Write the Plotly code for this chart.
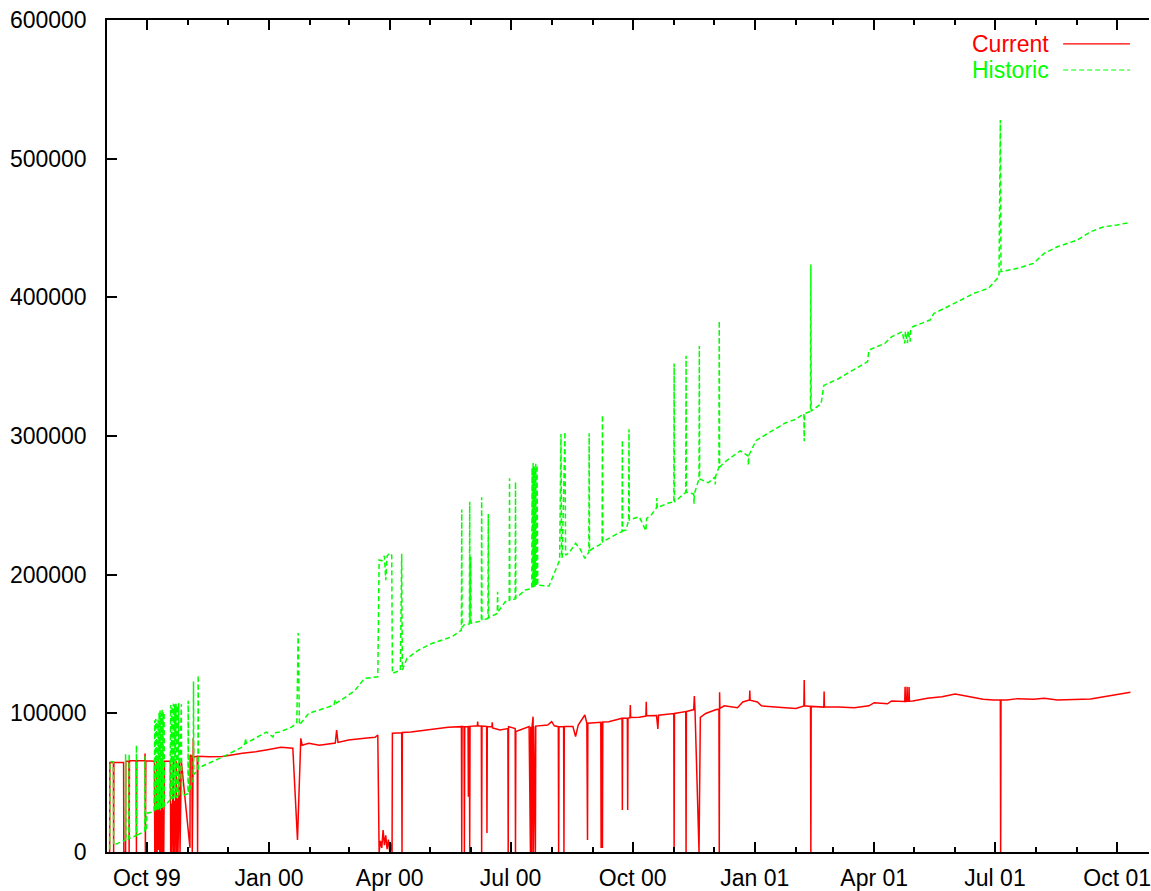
import plotly.graph_objects as go

# Current load, (timestamp, value) samples
current_points = [
    ("1999-09-03 00:00", 0), ("1999-09-03 04:00", 64500), ("1999-09-05 20:00", 64500),
    ("1999-09-06 00:00", 0), ("1999-09-06 04:00", 64500), ("1999-09-13 12:00", 64500),
    ("1999-09-13 16:00", 0), ("1999-09-15 00:00", 0), ("1999-09-15 04:00", 65500),
    ("1999-09-17 12:00", 65500), ("1999-09-17 16:00", 0), ("1999-09-17 22:00", 65800),
    ("1999-09-23 00:00", 65800), ("1999-09-23 04:00", 0), ("1999-09-23 10:00", 65800),
    ("1999-09-29 12:00", 65800), ("1999-09-29 16:00", 71000), ("1999-09-29 22:00", 0),
    ("1999-09-30 06:00", 65800), ("1999-10-06 18:00", 65500),
    ("1999-10-07 00:00", 0), ("1999-10-07 12:00", 30000), ("1999-10-08 00:00", 0),
    ("1999-10-08 06:00", 31000), ("1999-10-08 12:00", 65500), ("1999-10-08 18:00", 0),
    ("1999-10-09 06:00", 30500), ("1999-10-09 18:00", 1500), ("1999-10-10 06:00", 31000),
    ("1999-10-10 12:00", 65500), ("1999-10-10 18:00", 0), ("1999-10-11 06:00", 30000),
    ("1999-10-11 18:00", 0), ("1999-10-12 06:00", 31500), ("1999-10-12 12:00", 65500),
    ("1999-10-12 18:00", 0), ("1999-10-13 06:00", 30500), ("1999-10-13 18:00", 0),
    ("1999-10-14 06:00", 65500), ("1999-10-18 18:00", 65500),
    ("1999-10-19 00:00", 0), ("1999-10-19 12:00", 35000), ("1999-10-20 00:00", 0),
    ("1999-10-20 12:00", 36000), ("1999-10-21 00:00", 65500), ("1999-10-21 06:00", 0),
    ("1999-10-21 18:00", 37000), ("1999-10-22 06:00", 0), ("1999-10-22 18:00", 38000),
    ("1999-10-23 06:00", 65500), ("1999-10-23 12:00", 0), ("1999-10-24 00:00", 38500),
    ("1999-10-24 12:00", 0), ("1999-10-25 00:00", 39500), ("1999-10-25 12:00", 65500),
    ("1999-10-26 00:00", 0), ("1999-10-26 12:00", 40000), ("1999-10-27 00:00", 65500),
    ("1999-11-02 12:00", 3000), ("1999-11-02 16:00", 70000), ("1999-11-04 00:00", 69000),
    ("1999-11-04 06:00", 0), ("1999-11-05 00:00", 82000), ("1999-11-05 06:00", 68500),
    ("1999-11-08 00:00", 69000), ("1999-11-08 06:00", 0), ("1999-11-08 12:00", 69000),
    ("1999-11-17 00:00", 68700), ("1999-11-27 00:00", 68900), ("1999-12-12 00:00", 71200),
    ("1999-12-22 00:00", 72300), ("2000-01-01 00:00", 74000), ("2000-01-10 00:00", 75500),
    ("2000-01-19 00:00", 74800), ("2000-01-22 12:00", 8700), ("2000-01-25 00:00", 82000),
    ("2000-01-26 00:00", 77000), ("2000-01-31 00:00", 78400), ("2000-02-08 00:00", 77000),
    ("2000-02-20 00:00", 78600), ("2000-02-21 00:00", 88000), ("2000-02-22 00:00", 79000),
    ("2000-03-01 00:00", 80800), ("2000-03-13 00:00", 82000), ("2000-03-21 00:00", 82700),
    ("2000-03-23 00:00", 84400), ("2000-03-24 00:00", 0), ("2000-03-25 00:00", 8000),
    ("2000-03-26 00:00", 3000), ("2000-03-27 00:00", 15800), ("2000-03-28 00:00", 5000),
    ("2000-03-29 00:00", 12000), ("2000-03-30 00:00", 2000), ("2000-03-31 00:00", 9000),
    ("2000-04-01 00:00", 0), ("2000-04-02 00:00", 6000), ("2000-04-02 18:00", 0),
    ("2000-04-03 00:00", 85600), ("2000-04-10 00:00", 86000), ("2000-04-10 06:00", 0),
    ("2000-04-10 12:00", 86200), ("2000-04-17 00:00", 86500), ("2000-04-25 00:00", 87500),
    ("2000-05-05 00:00", 89200), ("2000-05-15 00:00", 89900), ("2000-05-25 00:00", 90400),
    ("2000-05-25 06:00", 0), ("2000-05-25 12:00", 90400), ("2000-05-27 00:00", 90300),
    ("2000-05-27 06:00", 0), ("2000-05-27 12:00", 90300), ("2000-05-30 00:00", 90500),
    ("2000-05-30 06:00", 39900), ("2000-05-30 12:00", 90500), ("2000-05-31 00:00", 90500),
    ("2000-05-31 06:00", 0), ("2000-05-31 12:00", 90600), ("2000-06-06 00:00", 91000),
    ("2000-06-06 06:00", 94000), ("2000-06-06 12:00", 91000), ("2000-06-09 00:00", 90800),
    ("2000-06-09 06:00", 0), ("2000-06-09 12:00", 90800), ("2000-06-13 00:00", 90500),
    ("2000-06-13 06:00", 13700), ("2000-06-13 12:00", 90500), ("2000-06-17 00:00", 90400),
    ("2000-06-17 06:00", 93500), ("2000-06-17 12:00", 89500), ("2000-06-23 00:00", 88000),
    ("2000-06-29 00:00", 89000), ("2000-06-29 06:00", 0), ("2000-06-29 12:00", 90400),
    ("2000-07-04 12:00", 89000), ("2000-07-04 18:00", 0), ("2000-07-05 00:00", 86800),
    ("2000-07-15 00:00", 90400), ("2000-07-16 00:00", 0), ("2000-07-16 06:00", 90400),
    ("2000-07-17 00:00", 0), ("2000-07-17 06:00", 90600), ("2000-07-18 00:00", 97600),
    ("2000-07-18 06:00", 0), ("2000-07-18 12:00", 90600), ("2000-07-19 18:00", 0),
    ("2000-07-20 00:00", 90800), ("2000-07-29 00:00", 91600), ("2000-08-01 00:00", 94000),
    ("2000-08-03 00:00", 91000), ("2000-08-06 00:00", 90400), ("2000-08-06 06:00", 0),
    ("2000-08-06 12:00", 90400), ("2000-08-10 00:00", 90400), ("2000-08-10 06:00", 0),
    ("2000-08-10 12:00", 90500), ("2000-08-17 00:00", 90500), ("2000-08-19 00:00", 83200),
    ("2000-08-21 00:00", 91500), ("2000-08-26 00:00", 98800), ("2000-08-27 12:00", 92800),
    ("2000-08-28 00:00", 8700), ("2000-08-28 06:00", 92800), ("2000-09-07 00:00", 93500),
    ("2000-09-07 06:00", 2900), ("2000-09-07 12:00", 93500), ("2000-09-08 00:00", 93600),
    ("2000-09-08 06:00", 2900), ("2000-09-08 12:00", 93800), ("2000-09-13 00:00", 94000),
    ("2000-09-23 00:00", 96400), ("2000-09-23 06:00", 30300), ("2000-09-23 12:00", 96400),
    ("2000-09-27 00:00", 96500), ("2000-09-27 06:00", 30300), ("2000-09-27 12:00", 96600),
    ("2000-09-29 00:00", 96800), ("2000-09-29 06:00", 106000), ("2000-09-29 12:00", 97000),
    ("2000-10-06 00:00", 97100), ("2000-10-11 00:00", 98000), ("2000-10-11 06:00", 108400),
    ("2000-10-11 12:00", 98200), ("2000-10-19 00:00", 98500), ("2000-10-20 00:00", 88800),
    ("2000-10-20 12:00", 98600), ("2000-10-31 00:00", 99900), ("2000-11-01 00:00", 99900),
    ("2000-11-01 06:00", 0), ("2000-11-01 12:00", 99900), ("2000-11-10 00:00", 101300),
    ("2000-11-10 06:00", 0), ("2000-11-10 12:00", 101300), ("2000-11-16 00:00", 102700),
    ("2000-11-16 12:00", 112500), ("2000-11-17 00:00", 102000), ("2000-11-20 00:00", 0),
    ("2000-11-21 00:00", 97100), ("2000-11-25 00:00", 99900), ("2000-12-03 00:00", 102700),
    ("2000-12-05 00:00", 103000), ("2000-12-05 06:00", 0), ("2000-12-05 12:00", 115200),
    ("2000-12-05 18:00", 103500), ("2000-12-09 00:00", 105400), ("2000-12-19 00:00", 104100),
    ("2000-12-23 00:00", 108200), ("2000-12-28 00:00", 109600), ("2000-12-28 06:00", 116500),
    ("2000-12-28 12:00", 109500), ("2001-01-03 00:00", 108200), ("2001-01-06 00:00", 105400),
    ("2001-01-24 00:00", 104100), ("2001-02-01 00:00", 103500), ("2001-02-07 00:00", 105400),
    ("2001-02-07 06:00", 124000), ("2001-02-07 12:00", 105400), ("2001-02-12 00:00", 105000),
    ("2001-02-12 06:00", 0), ("2001-02-12 12:00", 105000), ("2001-02-22 00:00", 104500),
    ("2001-02-22 06:00", 115700), ("2001-02-22 12:00", 104500), ("2001-03-05 00:00", 104600),
    ("2001-03-17 00:00", 104100), ("2001-03-28 00:00", 105400), ("2001-04-01 00:00", 107700),
    ("2001-04-11 00:00", 106900), ("2001-04-14 00:00", 108900), ("2001-04-24 00:00", 108500),
    ("2001-04-24 06:00", 119200), ("2001-04-24 12:00", 108500), ("2001-04-25 12:00", 108600),
    ("2001-04-25 18:00", 119200), ("2001-04-26 00:00", 108700), ("2001-04-27 00:00", 108700),
    ("2001-04-27 06:00", 119000), ("2001-04-27 12:00", 108800), ("2001-04-30 00:00", 108900),
    ("2001-05-11 00:00", 110800), ("2001-05-22 00:00", 112000), ("2001-06-01 00:00", 113900),
    ("2001-06-12 00:00", 112000), ("2001-06-22 00:00", 110100), ("2001-06-30 00:00", 109600),
    ("2001-07-05 00:00", 109600), ("2001-07-05 06:00", 0), ("2001-07-05 12:00", 109600),
    ("2001-07-10 00:00", 109600), ("2001-07-18 00:00", 110600), ("2001-07-30 00:00", 110100),
    ("2001-08-07 00:00", 110800), ("2001-08-17 00:00", 109600), ("2001-08-30 00:00", 110100),
    ("2001-09-11 00:00", 110300), ("2001-09-21 00:00", 112000), ("2001-10-01 00:00", 113700),
    ("2001-10-11 00:00", 115200),
]

# Historic load, (timestamp, value) samples
historic_points = [
    ("1999-09-03 00:00", 2000), ("1999-09-03 04:00", 65000), ("1999-09-05 20:00", 65000),
    ("1999-09-06 00:00", 5000), ("1999-09-14 20:00", 8500), ("1999-09-15 00:00", 70500),
    ("1999-09-15 06:00", 8700), ("1999-09-17 12:00", 9500), ("1999-09-17 16:00", 71000),
    ("1999-09-17 22:00", 9800), ("1999-09-23 00:00", 11800), ("1999-09-23 04:00", 77000),
    ("1999-09-23 10:00", 12000), ("1999-09-29 12:00", 15000), ("1999-09-29 16:00", 69000),
    ("1999-09-29 22:00", 15400), ("1999-09-30 20:00", 16000), ("1999-10-01 00:00", 28000),
    ("1999-10-06 12:00", 29000),
    ("1999-10-07 00:00", 95000), ("1999-10-07 06:00", 29500), ("1999-10-07 18:00", 96000),
    ("1999-10-08 00:00", 30000), ("1999-10-08 12:00", 94000), ("1999-10-08 18:00", 30000),
    ("1999-10-09 12:00", 95500), ("1999-10-09 18:00", 30500), ("1999-10-10 06:00", 101000),
    ("1999-10-10 12:00", 31000), ("1999-10-11 00:00", 102000), ("1999-10-11 06:00", 31000),
    ("1999-10-11 18:00", 100000), ("1999-10-12 00:00", 31500), ("1999-10-12 12:00", 103000),
    ("1999-10-12 18:00", 32000), ("1999-10-13 06:00", 101000), ("1999-10-13 12:00", 32000),
    ("1999-10-14 00:00", 100500), ("1999-10-14 06:00", 33000), ("1999-10-18 12:00", 37500),
    ("1999-10-19 00:00", 106000), ("1999-10-19 06:00", 38000), ("1999-10-20 00:00", 105000),
    ("1999-10-20 06:00", 38000), ("1999-10-21 00:00", 107000), ("1999-10-21 06:00", 38500),
    ("1999-10-22 00:00", 106500), ("1999-10-22 06:00", 39000), ("1999-10-23 00:00", 107000),
    ("1999-10-23 06:00", 39000), ("1999-10-24 00:00", 105500), ("1999-10-24 06:00", 39500),
    ("1999-10-25 00:00", 107500), ("1999-10-25 06:00", 40000), ("1999-10-27 00:00", 106500),
    ("1999-10-27 06:00", 40500), ("1999-11-01 00:00", 42000), ("1999-11-01 04:00", 109000),
    ("1999-11-01 10:00", 43000), ("1999-11-05 00:00", 52000), ("1999-11-05 04:00", 123000),
    ("1999-11-05 10:00", 56000), ("1999-11-08 12:00", 59000), ("1999-11-08 16:00", 127500),
    ("1999-11-08 22:00", 60000), ("1999-11-12 00:00", 62000), ("1999-11-17 00:00", 64000),
    ("1999-11-27 00:00", 68500), ("1999-12-12 00:00", 75700), ("1999-12-14 00:00", 78400),
    ("1999-12-14 06:00", 82000), ("1999-12-15 00:00", 78500), ("1999-12-30 00:00", 86500),
    ("2000-01-04 00:00", 83000), ("2000-01-05 00:00", 86000), ("2000-01-09 00:00", 86500),
    ("2000-01-18 00:00", 90000), ("2000-01-22 00:00", 93000), ("2000-01-23 00:00", 158000),
    ("2000-01-24 00:00", 91600), ("2000-01-25 00:00", 92800), ("2000-01-31 00:00", 100000),
    ("2000-02-08 00:00", 102400), ("2000-02-19 00:00", 106000), ("2000-02-20 00:00", 110000),
    ("2000-02-21 00:00", 107500), ("2000-03-01 00:00", 113200), ("2000-03-06 00:00", 116800),
    ("2000-03-13 00:00", 125200), ("2000-03-23 00:00", 126400), ("2000-03-24 00:00", 210600),
    ("2000-03-26 00:00", 210000), ("2000-03-28 00:00", 213500), ("2000-03-29 00:00", 196000),
    ("2000-03-30 00:00", 213500), ("2000-04-01 00:00", 215600), ("2000-04-02 12:00", 214000),
    ("2000-04-03 00:00", 128800), ("2000-04-09 00:00", 131000), ("2000-04-10 00:00", 215000),
    ("2000-04-10 12:00", 131200), ("2000-04-14 00:00", 139700), ("2000-04-23 00:00", 145700),
    ("2000-05-03 00:00", 150500), ("2000-05-18 00:00", 155300), ("2000-05-25 00:00", 160100),
    ("2000-05-25 06:00", 247000), ("2000-05-25 12:00", 162000), ("2000-05-27 00:00", 163700),
    ("2000-05-31 00:00", 164500), ("2000-05-31 06:00", 252600), ("2000-05-31 12:00", 164500),
    ("2000-06-01 00:00", 213000), ("2000-06-01 06:00", 165000), ("2000-06-09 00:00", 166500),
    ("2000-06-09 06:00", 255800), ("2000-06-09 12:00", 167000), ("2000-06-14 00:00", 168500),
    ("2000-06-14 06:00", 243700), ("2000-06-14 12:00", 169000), ("2000-06-21 00:00", 172000),
    ("2000-06-21 06:00", 187700), ("2000-06-21 12:00", 173000), ("2000-06-27 00:00", 180500),
    ("2000-06-30 00:00", 181000), ("2000-06-30 06:00", 269500), ("2000-06-30 12:00", 181500),
    ("2000-07-04 12:00", 182500), ("2000-07-04 18:00", 267000), ("2000-07-05 00:00", 183000),
    ("2000-07-12 00:00", 188900), ("2000-07-17 00:00", 190000), ("2000-07-17 06:00", 277000),
    ("2000-07-17 18:00", 190500), ("2000-07-18 00:00", 280500), ("2000-07-18 12:00", 191000),
    ("2000-07-19 00:00", 278000), ("2000-07-19 12:00", 191500), ("2000-07-20 00:00", 280000),
    ("2000-07-20 12:00", 192000), ("2000-07-21 00:00", 279000), ("2000-07-21 12:00", 192500),
    ("2000-07-30 00:00", 191800), ("2000-08-03 00:00", 201200), ("2000-08-07 00:00", 210600),
    ("2000-08-08 00:00", 301400), ("2000-08-08 12:00", 212000), ("2000-08-09 00:00", 213000),
    ("2000-08-11 00:00", 303100), ("2000-08-11 12:00", 214000), ("2000-08-14 00:00", 215600),
    ("2000-08-19 00:00", 222600), ("2000-08-22 00:00", 219200), ("2000-08-26 00:00", 211800),
    ("2000-08-29 00:00", 216300), ("2000-08-29 06:00", 302000), ("2000-08-29 12:00", 217000),
    ("2000-09-01 00:00", 219000), ("2000-09-06 00:00", 221400), ("2000-09-08 00:00", 223000),
    ("2000-09-08 06:00", 315100), ("2000-09-08 12:00", 223800), ("2000-09-20 00:00", 229800),
    ("2000-09-23 00:00", 231000), ("2000-09-23 06:00", 297100), ("2000-09-23 12:00", 231500),
    ("2000-09-26 00:00", 232200), ("2000-09-28 00:00", 239400), ("2000-09-28 06:00", 304800),
    ("2000-09-28 12:00", 239500), ("2000-10-06 00:00", 241800), ("2000-10-11 00:00", 231600),
    ("2000-10-11 12:00", 240500), ("2000-10-15 00:00", 243000), ("2000-10-19 00:00", 248300),
    ("2000-10-19 06:00", 255300), ("2000-10-19 12:00", 248300), ("2000-10-28 00:00", 251700),
    ("2000-11-01 00:00", 252400), ("2000-11-01 06:00", 352300), ("2000-11-01 12:00", 252400),
    ("2000-11-10 00:00", 259400), ("2000-11-10 06:00", 357800), ("2000-11-10 12:00", 259400),
    ("2000-11-16 00:00", 258200), ("2000-11-16 06:00", 251100), ("2000-11-16 12:00", 258500),
    ("2000-11-20 00:00", 269100), ("2000-11-20 06:00", 364900), ("2000-11-20 12:00", 269000),
    ("2000-11-27 00:00", 266300), ("2000-12-02 00:00", 270400), ("2000-12-02 06:00", 265000),
    ("2000-12-02 12:00", 271000), ("2000-12-05 00:00", 277400), ("2000-12-05 06:00", 383000),
    ("2000-12-05 12:00", 277500), ("2000-12-10 00:00", 281600), ("2000-12-21 00:00", 289300),
    ("2000-12-27 00:00", 285700), ("2000-12-27 06:00", 278800), ("2000-12-27 12:00", 286000),
    ("2001-01-02 00:00", 296800), ("2001-01-14 00:00", 303700), ("2001-01-24 00:00", 309400),
    ("2001-02-01 00:00", 312100), ("2001-02-07 00:00", 316200), ("2001-02-07 06:00", 296200),
    ("2001-02-07 12:00", 316200), ("2001-02-12 00:00", 317700), ("2001-02-12 06:00", 423600),
    ("2001-02-12 12:00", 318000), ("2001-02-20 00:00", 323200), ("2001-02-22 00:00", 336500),
    ("2001-03-05 00:00", 341300), ("2001-03-15 00:00", 346800), ("2001-03-27 00:00", 353700),
    ("2001-03-28 00:00", 362000), ("2001-04-09 00:00", 366800), ("2001-04-14 00:00", 371500),
    ("2001-04-22 00:00", 375200), ("2001-04-24 00:00", 366800), ("2001-04-24 12:00", 375500),
    ("2001-04-26 00:00", 367000), ("2001-04-26 12:00", 376000), ("2001-04-28 00:00", 368000),
    ("2001-04-28 12:00", 377000), ("2001-04-30 00:00", 378800), ("2001-05-13 00:00", 383600),
    ("2001-05-16 00:00", 388400), ("2001-05-24 00:00", 392100), ("2001-06-03 00:00", 396900),
    ("2001-06-15 00:00", 402900), ("2001-06-26 00:00", 406500), ("2001-07-04 00:00", 414900),
    ("2001-07-05 00:00", 527900), ("2001-07-05 12:00", 418500), ("2001-07-18 00:00", 420900),
    ("2001-07-30 00:00", 424500), ("2001-08-07 00:00", 431700), ("2001-08-17 00:00", 436500),
    ("2001-09-01 00:00", 441300), ("2001-09-11 00:00", 447300), ("2001-09-21 00:00", 450900),
    ("2001-10-01 00:00", 452200), ("2001-10-11 00:00", 454100),
]

series_names = ["Current", "Historic"]
series_colors = ["#ff0000", "#00ff00"]
series_dash = ["solid", "5px,3px"]
x_range = ["1999-09-01", "2001-10-25"]
y_range = [0, 600000]

FONT = "Liberation Sans, Arial, Helvetica, sans-serif"
FONT_SIZE = 23
LINE_W = 1.5

cur_x = [d for d, _ in current_points]
cur_y = [v for _, v in current_points]
hist_x = [d for d, _ in historic_points]
hist_y = [v for _, v in historic_points]

fig = go.Figure()
fig.add_trace(go.Scatter(
    x=cur_x, y=cur_y, mode="lines", name=series_names[0],
    line=dict(color=series_colors[0], width=LINE_W, dash=series_dash[0]), showlegend=False,
))
fig.add_trace(go.Scatter(
    x=hist_x, y=hist_y, mode="lines", name=series_names[1],
    line=dict(color=series_colors[1], width=LINE_W, dash=series_dash[1]), showlegend=False,
))

fig.update_layout(
    width=1151, height=891,
    margin=dict(l=107, r=0, t=20, b=39),
    paper_bgcolor="white", plot_bgcolor="white",
    font=dict(family=FONT, size=FONT_SIZE, color="black"),
    showlegend=False,
)

fig.update_xaxes(
    type="date", range=x_range,
    showgrid=False, zeroline=False,
    showline=True, linecolor="black", linewidth=1.5, mirror="ticks",
    ticks="inside", ticklen=10, tickwidth=1.5, tickcolor="black",
    tick0="1999-10-01", dtick="M3", tickformat="%b %y",
    ticklabelstandoff=5, ticklabeloverflow="allow",
    minor=dict(ticks="inside", ticklen=5, tickwidth=1.5, tickcolor="black",
               dtick="M1", tick0="1999-09-01", showgrid=False),
)
fig.update_yaxes(
    range=y_range, dtick=100000, tickformat="d",
    showgrid=False, zeroline=False,
    showline=True, linecolor="black", linewidth=1.5, mirror=False,
    ticks="inside", ticklen=10, tickwidth=1.5, tickcolor="black",
    ticklabelstandoff=14,
)

# key in the upper right: right-aligned label followed by a line sample
key_rows = [0.9712, 0.9399]
for name, color, yk, dash in zip(series_names, series_colors, key_rows, series_dash):
    fig.add_annotation(
        x=0.906, y=yk, xref="paper", yref="paper", text=name, showarrow=False,
        xanchor="right", yanchor="middle", font=dict(family=FONT, size=FONT_SIZE, color=color),
    )
    fig.add_shape(
        type="line", xref="paper", yref="paper", x0=0.9176, x1=0.9818, y0=yk, y1=yk,
        line=dict(color=color, width=1.2, dash=dash),
    )

fig.write_html("out.html")
